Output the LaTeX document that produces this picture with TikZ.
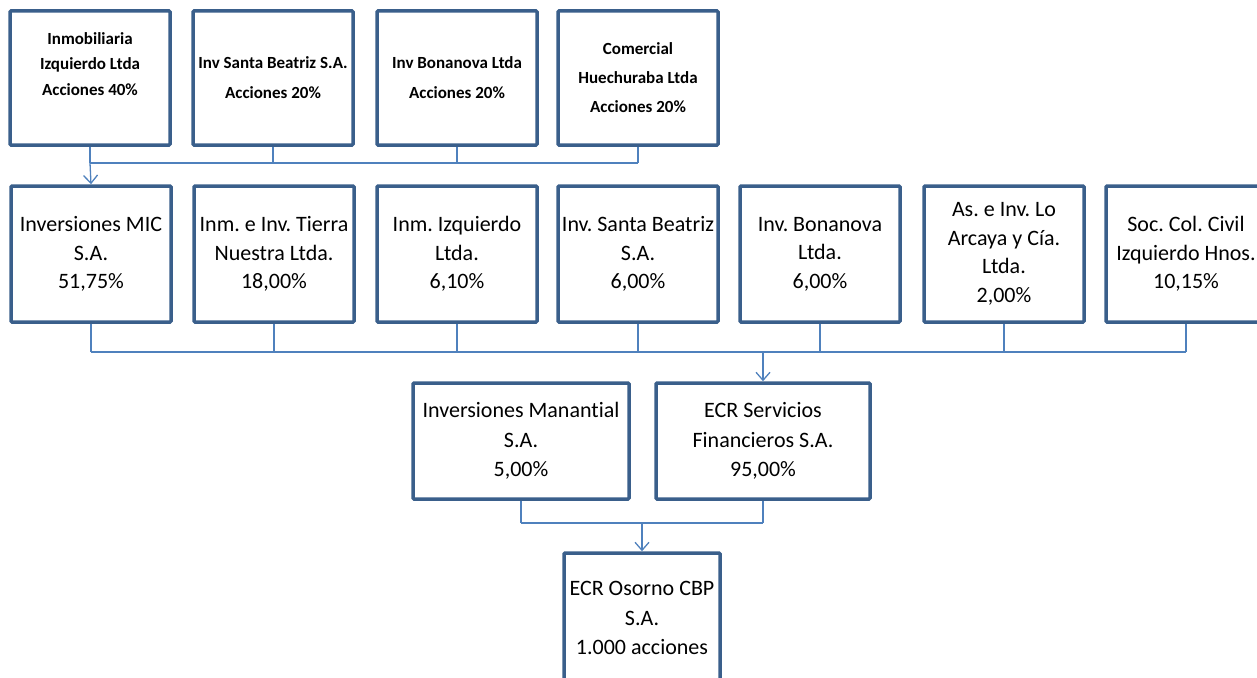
\documentclass[tikz,border=0pt]{standalone}
\usepackage{fontspec}
\setmainfont{Carlito}[Ligatures=NoCommon]
\frenchspacing
\usetikzlibrary{arrows.meta}
\definecolor{boxblue}{HTML}{3A5F8B}
\definecolor{linkblue}{HTML}{4F81BD}
\tikzset{
  box/.style={draw=boxblue, line width=3.5pt, rounded corners=1pt, fill=white,
    inner sep=0pt, align=center, text=black},
  topbox/.style={box, minimum width=160pt, minimum height=134pt,
    font=\bfseries\fontsize{17}{28}\selectfont},
  midbox/.style={box, minimum width=160pt, minimum height=136pt,
    font=\fontsize{22}{28.5}\selectfont},
  lowbox/.style={box, minimum height=116pt, font=\fontsize{22}{29.5}\selectfont},
  conn/.style={draw=linkblue, line width=1.3pt},
  arr/.style={conn, -{Straight Barb[length=8pt,width=14pt,line width=1.3pt]}},
}
\begin{document}
\frenchspacing
\begin{tikzpicture}[x=1pt,y=-1pt]
\useasboundingbox (0,0) rectangle (1257,677);
\clip (0,0) rectangle (1257,677);
% top row
\node[topbox] (t1) at (90,78) {};
\node[font=\bfseries\fontsize{17}{25.5}\selectfont, align=center] (t1txt) at (90,64) {Inmobiliaria\\Izquierdo Ltda\\Acciones 40\%};
\node[topbox, font=\bfseries\fontsize{17}{30}\selectfont] (t2) at (273,78) {Inv Santa Beatriz S.A.\\Acciones 20\%};
\node[topbox, font=\bfseries\fontsize{17}{30}\selectfont] (t3) at (457,78) {Inv Bonanova Ltda\\Acciones 20\%};
\node[topbox, font=\bfseries\fontsize{17}{29}\selectfont] (t4) at (638,78) {Comercial\\Huechuraba Ltda\\Acciones 20\%};
% middle row
\node[midbox] (r1) at (91,254) {Inversiones MIC\\S.A.\\51,75\%};
\node[midbox] (r2) at (274,254) {Inm. e Inv. Tierra\\Nuestra Ltda.\\18,00\%};
\node[midbox] (r3) at (457,254) {Inm. Izquierdo\\Ltda.\\6,10\%};
\node[midbox] (r4) at (638,254) {Inv. Santa Beatriz\\S.A.\\6,00\%};
\node[midbox] (r5) at (820,254) {Inv. Bonanova\\Ltda.\\6,00\%};
\node[midbox] (r6) at (1004,254) {As. e Inv. Lo\\Arcaya y Cía.\\Ltda.\\2,00\%};
\node[midbox] (r7) at (1186,254) {Soc. Col. Civil\\Izquierdo Hnos.\\10,15\%};
% lower row
\node[lowbox, minimum width=216pt] (s1) at (521,441) {Inversiones Manantial\\S.A.\\5,00\%};
\node[lowbox, minimum width=214pt] (s2) at (763,441) {ECR Servicios\\Financieros S.A.\\95,00\%};
% bottom
\node[box, minimum width=156pt, minimum height=130pt, font=\fontsize{22}{29.5}\selectfont] (c) at (642,618) {ECR Osorno CBP\\S.A.\\1.000 acciones};
% connectors top
\coordinate (tj) at (0,163);
\foreach \n in {t1,t2,t3,t4} \draw[conn] (\n.south) -- (\n.south |- tj);
\draw[conn] (t1.south |- tj) -- (t4.south |- tj);
\draw[arr] (t1.south |- tj) -- (r1.north);
% connectors middle
\coordinate (mj) at (0,352);
\foreach \n in {r1,r2,r3,r4,r5,r6,r7} \draw[conn] (\n.south) -- (\n.south |- mj);
\draw[conn] (r1.south |- mj) -- (r7.south |- mj);
\draw[arr] (s2.north |- mj) -- (s2.north);
% connectors lower
\coordinate (bj) at (0,523);
\foreach \n in {s1,s2} \draw[conn] (\n.south) -- (\n.south |- bj);
\draw[conn] (s1.south |- bj) -- (s2.south |- bj);
\draw[arr] (c.north |- bj) -- (c.north);
\end{tikzpicture}
\end{document}
